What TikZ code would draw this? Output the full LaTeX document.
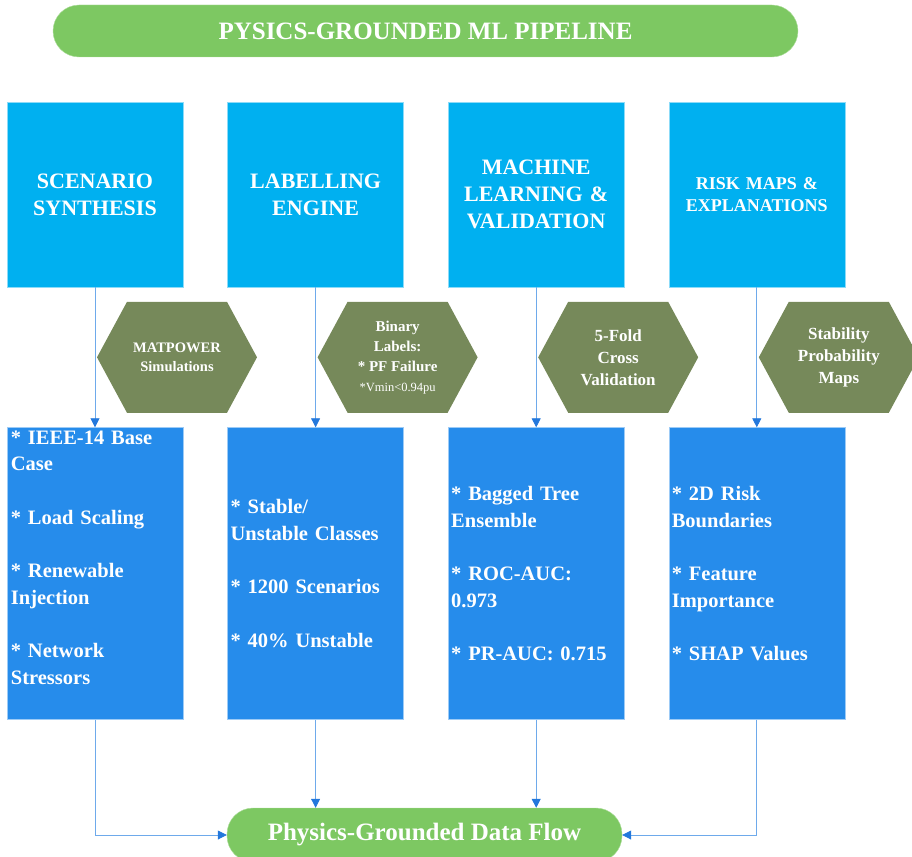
\documentclass[tikz,border=0pt]{standalone}
\usepackage{fontspec}
\setmainfont{Liberation Serif}
\usetikzlibrary{positioning, arrows.meta, calc}

\definecolor{stagecyan}{RGB}{0,176,240}
\definecolor{detailblue}{RGB}{38,140,235}
\definecolor{hexolive}{RGB}{118,137,90}
\definecolor{pillgreen}{RGB}{125,200,98}
\definecolor{flowline}{RGB}{110,170,235}
\definecolor{flowtip}{RGB}{35,120,220}

\begin{document}
\begin{tikzpicture}[
  x=1pt, y=-1pt,
  stage/.style={rectangle, fill=stagecyan, draw=stagecyan!45, line width=0.6pt,
    minimum width=176pt, minimum height=185pt, text width=168pt, inner xsep=4pt,
    align=center, text=white, font=\bfseries\fontsize{22}{27}\selectfont},
  detail/.style={rectangle, fill=detailblue, draw=detailblue!45, line width=0.6pt,
    minimum width=176pt, minimum height=292pt, text width=170pt, inner xsep=3pt,
    inner ysep=1pt, align=left, text=white, font=\bfseries\fontsize{20.5}{26.7}\selectfont},
  detailtext/.style={text width=170pt, inner sep=0pt, align=left, text=white,
    font=\bfseries\fontsize{20.5}{26.7}\selectfont},
  method/.style={text=white, align=center, inner sep=0pt},
  pill/.style={rectangle, rounded corners=26pt, fill=pillgreen, draw=pillgreen!60,
    text=white, font=\bfseries\fontsize{25}{30}\selectfont},
  flow/.style={draw=flowline, line width=0.8pt, -{Triangle[length=9pt, width=9pt, color=flowtip]}},
  node distance=140pt and 44pt
]
\useasboundingbox (0,0) rectangle (912,856);

% Title
\node[pill, minimum width=745pt, minimum height=52pt] (title) at (425.5,31) {PYSICS-GROUNDED ML PIPELINE};

% Stages
\node[stage] (scen) at (95,194.5) {SCENARIO\\SYNTHESIS};
\node[stage, right=of scen] (label) {LABELLING\\ENGINE};
\node[stage, right=of label] (mlval) {MACHINE\\LEARNING \&\\VALIDATION};
\node[stage, right=of mlval, font=\bfseries\fontsize{18}{22}\selectfont] (risk) {RISK MAPS \&\\EXPLANATIONS};

% Details
\node[detail, below=of scen] (scendet) {};
\node[detailtext, anchor=north west] (scentext) at ([shift={(4,3)}]scendet.north west)
  {{*} IEEE-14 Base\\Case\\[26.7pt]{*} Load Scaling\\[26.7pt]{*} Renewable\\Injection\\[26.7pt]{*} Network\\Stressors};
\node[detail, below=of label] (labdet) {{*} Stable/\\Unstable Classes\\[26.7pt]{*} 1200 Scenarios\\[26.7pt]{*} 40\% Unstable};
\node[detail, below=of mlval] (mldet) {{*} Bagged Tree\\Ensemble\\[26.7pt]{*} ROC-AUC:\\0.973\\[26.7pt]{*} PR-AUC: 0.715};
\node[detail, below=of risk] (riskdet) {{*} 2D Risk\\Boundaries\\[26.7pt]{*} Feature\\Importance\\[26.7pt]{*} SHAP Values};

% Methods (hexagons)
\coordinate (simhex) at ($(scen.south)!0.5!(scendet.north)+(82,0)$);
\coordinate (labhex) at ($(label.south)!0.5!(labdet.north)+(82,0)$);
\coordinate (valhex) at ($(mlval.south)!0.5!(mldet.north)+(82,0)$);
\coordinate (maphex) at ($(risk.south)!0.5!(riskdet.north)+(82,0)$);
\foreach \hx in {simhex, labhex, valhex, maphex}
  \fill[hexolive] ($(\hx)+(-80,0)$) -- ($(\hx)+(-50,-55.5)$) -- ($(\hx)+(50,-55.5)$)
    -- ($(\hx)+(80,0)$) -- ($(\hx)+(50,55.5)$) -- ($(\hx)+(-50,55.5)$) -- cycle;

\node[method, font=\bfseries\fontsize{14.5}{19}\selectfont] (simtext) at (simhex) {MATPOWER\\Simulations};
\node[method, font=\bfseries\fontsize{15}{20}\selectfont] (labtext) at (labhex) {Binary\\Labels:\\{*} PF Failure\\{\mdseries\fontsize{12.5}{17}\selectfont *Vmin<0.94pu}};
\node[method, font=\bfseries\fontsize{17}{22}\selectfont] (valtext) at (valhex) {5-Fold\\Cross\\Validation};
\node[method, font=\bfseries\fontsize{17}{22}\selectfont] (maptext) at (maphex) {Stability\\Probability\\Maps};

% Output
\node[pill, minimum width=395pt, minimum height=54pt] (dataflow) at (424.5,835) {Physics-Grounded Data Flow};

% Connections
\draw[flow] (scen) -- (scendet);
\draw[flow] (label) -- (labdet);
\draw[flow] (mlval) -- (mldet);
\draw[flow] (risk) -- (riskdet);

\draw[flow] (scendet.south) |- (dataflow.west);
\draw[flow] (labdet.south) -- (labdet.south |- dataflow.north);
\draw[flow] (mldet.south) -- (mldet.south |- dataflow.north);
\draw[flow] (riskdet.south) |- (dataflow.east);

\end{tikzpicture}
\end{document}
